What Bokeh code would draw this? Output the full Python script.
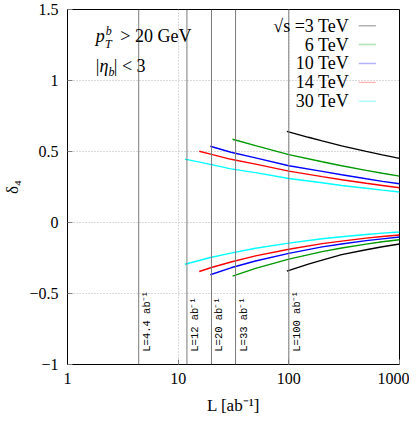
import math
from bokeh.plotting import figure
from bokeh.models import FixedTicker, Span, Label, PolyAnnotation
from bokeh.embed import file_html
from bokeh.resources import INLINE
from bokeh.core.properties import value

# ---------------- data ----------------
lum_lines = [4.4, 12, 20, 33, 100]
lum_labels = ["L=4.4 ab⁻¹", "L=12 ab⁻¹", "L=20 ab⁻¹", "L=33 ab⁻¹", "L=100 ab⁻¹"]

series_names = ["√s =3 TeV", "6 TeV", "10 TeV", "14 TeV", "30 TeV"]
series_colors = ["#000000", "#009a00", "#0000ff", "#ff0000", "#00ffff"]

L_3 = [96, 150, 200, 300, 500, 700, 1000]
up_3 = [0.642, 0.600, 0.575, 0.540, 0.501, 0.476, 0.452]
lo_3 = [-0.343, -0.293, -0.265, -0.226, -0.192, -0.171, -0.151]

L_6 = [31, 50, 100, 200, 300, 500, 700, 1000]
up_6 = [0.586, 0.541, 0.478, 0.428, 0.400, 0.367, 0.347, 0.327]
lo_6 = [-0.378, -0.323, -0.258, -0.205, -0.180, -0.152, -0.136, -0.121]

L_10 = [19.5, 30, 50, 100, 200, 300, 500, 700, 1000]
up_10 = [0.537, 0.495, 0.455, 0.400, 0.360, 0.336, 0.308, 0.290, 0.273]
lo_10 = [-0.368, -0.319, -0.271, -0.217, -0.172, -0.151, -0.128, -0.115, -0.102]

L_14 = [15.5, 20, 30, 50, 100, 200, 300, 500, 700, 1000]
up_14 = [0.502, 0.480, 0.445, 0.411, 0.362, 0.323, 0.301, 0.276, 0.261, 0.245]
lo_14 = [-0.345, -0.317, -0.278, -0.235, -0.188, -0.149, -0.131, -0.110, -0.099, -0.088]

L_30 = [11.5, 20, 30, 50, 100, 200, 300, 500, 700, 1000]
up_30 = [0.446, 0.408, 0.378, 0.351, 0.310, 0.280, 0.261, 0.241, 0.228, 0.215]
lo_30 = [-0.294, -0.245, -0.216, -0.181, -0.145, -0.114, -0.100, -0.084, -0.075, -0.067]

x_ticks = [1, 10, 100, 1000]
x_tick_labels = ["1", "10", "100", "1000"]
y_ticks = [-1, -0.5, 0, 0.5, 1, 1.5]
y_tick_labels = ["−1", "−0.5", "0", "0.5", "1", "1.5"]

# ---------------- figure ----------------
SERIF = "Liberation Serif"
p = figure(x_axis_type="log", x_range=(1, 1000), y_range=(-1, 1.5),
           frame_width=332, frame_height=355,
           min_border_left=0, min_border_right=10, min_border_top=9, min_border_bottom=0,
           output_backend="svg", toolbar_location=None)
p.background_fill_color = "white"
p.border_fill_color = "white"
p.outline_line_color = "black"
p.outline_line_width = 1

# axes
xa = p.xaxis[0]
xa.ticker = FixedTicker(ticks=x_ticks, minor_ticks=[])
xa.major_label_overrides = {float(t): s for t, s in zip(x_ticks, x_tick_labels)}
xa.axis_label = "L [ab⁻¹]"
ya = p.yaxis[0]
ya.ticker = FixedTicker(ticks=y_ticks, minor_ticks=[])
ya.major_label_overrides = {float(t): s for t, s in zip(y_ticks, y_tick_labels)}
ya.axis_label = "δ₄"
for ax in (xa, ya):
    ax.major_tick_in = 5
    ax.major_tick_out = 0
    ax.minor_tick_line_color = None
    ax.major_tick_line_color = "#808080"
    ax.axis_line_color = "black"
    ax.major_label_text_font = SERIF
    ax.major_label_text_font_size = "16px"
    ax.major_label_text_color = "black"
    ax.axis_label_text_font = SERIF
    ax.axis_label_text_font_size = "17px"
    ax.axis_label_text_font_style = "normal"
    ax.axis_label_text_color = "black"
xa.major_label_standoff = 8
xa.axis_label_standoff = 9
ya.major_label_standoff = 9
ya.axis_label_standoff = 4

# grid
p.xgrid.ticker = FixedTicker(ticks=x_ticks, minor_ticks=[])
p.ygrid.ticker = FixedTicker(ticks=y_ticks, minor_ticks=[])
for g in (p.xgrid, p.ygrid):
    g.grid_line_color = "#b4b4b4"
    g.grid_line_dash = "1 2"
    g.grid_line_width = 1

# vertical luminosity lines
for v in lum_lines:
    p.add_layout(Span(location=v, dimension="height", line_color="#7a7a7a", line_width=1))

p.text(x=lum_lines, y=[-0.91] * len(lum_lines), text=lum_labels, angle=math.pi / 2,
       text_align="left", text_baseline="middle", x_offset=8,
       text_font=value("Liberation Mono"), text_font_size="10.5px", text_color="black")

# curves
Ls = [L_3, L_6, L_10, L_14, L_30]
ups = [up_3, up_6, up_10, up_14, up_30]
los = [lo_3, lo_6, lo_10, lo_14, lo_30]
for L, u, lo, c in zip(Ls, ups, los, series_colors):
    p.line(L, u, line_color=c, line_width=1.4)
    p.line(L, lo, line_color=c, line_width=1.4)

# legend (manual, label left of sample)
leg_y = [1.386, 1.253, 1.120, 0.987, 0.854]
for name, c, yy in zip(series_names, series_colors, leg_y):
    p.add_layout(Label(x=350, y=yy, text=name, text_align="right", text_baseline="middle",
                       text_font=SERIF, text_font_size="18px", text_color="black"))
    p.add_layout(PolyAnnotation(xs=[428, 612], ys=[yy, yy], line_color=c, line_width=1.4,
                                fill_alpha=0))

# cut annotations
def lab(x, y, t, size="18px", style="normal"):
    p.add_layout(Label(x=x, y=y, text=t, text_align="left", text_baseline="middle",
                       text_font=SERIF, text_font_size=size, text_font_style=style,
                       text_color="black"))

lab(1.80, 1.314, "p", style="italic")
lab(2.22, 1.352, "b", size="12px", style="italic")
lab(2.18, 1.255, "T", size="12px", style="italic")
lab(3.00, 1.314, ">  20 GeV")
lab(1.80, 1.104, "|")
lab(1.95, 1.104, "η", style="italic")
lab(2.35, 1.062, "b", size="12px", style="italic")
lab(2.62, 1.104, "|  <  3")

open("out.html", "w").write(file_html(p, INLINE))
